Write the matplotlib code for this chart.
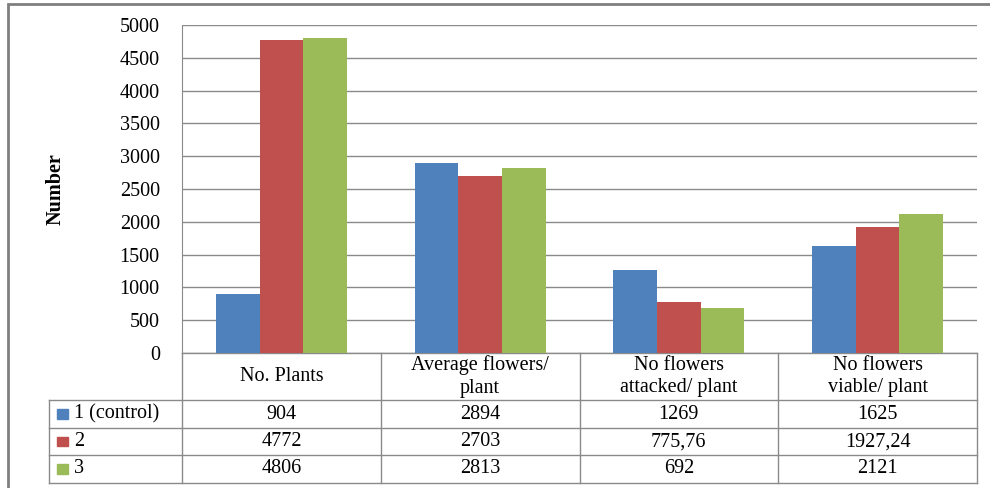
import numpy as np
import matplotlib
matplotlib.use("Agg")
import matplotlib.pyplot as plt
from matplotlib.lines import Line2D
from matplotlib.patches import Rectangle
import matplotlib.transforms as mtransforms

plt.rcParams["font.family"] = ["Liberation Serif", "DejaVu Serif"]

# ============================================================
# DATA
# ============================================================

categories = ["No. Plants", "Average flowers/\nplant",
              "No flowers\nattacked/ plant", "No flowers\nviable/ plant"]
series_names = ["1 (control)", "2", "3"]
control = [904, 2894, 1269, 1625]
treat2 = [4772, 2703, 775.76, 1927.24]
treat3 = [4806, 2813, 692, 2121]
cell_text = [["904", "2894", "1269", "1625"],
             ["4772", "2703", "775,76", "1927,24"],
             ["4806", "2813", "692", "2121"]]
colors = ["#4F81BD", "#C0504D", "#9BBB59"]
y_ticks = np.arange(0, 5001, 500)

FS = 14.5

# ============================================================
# FIGURE
# ============================================================

fig = plt.figure(figsize=(9.9, 4.88), dpi=100)
ax = fig.add_axes([182 / 990, 1 - 353 / 488, 795 / 990, 328 / 488])

x = np.arange(len(categories))
bar_w = 0.22
for i, vals in enumerate([control, treat2, treat3]):
    ax.bar(x + (i - 1) * bar_w, vals, width=bar_w, color=colors[i], zorder=3)

ax.set_xlim(-0.5, len(categories) - 0.5)
ax.set_ylim(0, 5000)
ax.set_yticks(y_ticks)
ax.set_yticklabels([str(v) for v in y_ticks], fontsize=FS)
ax.set_xticks([])
ax.tick_params(axis="y", length=0, pad=16)
ax.yaxis.grid(True, color="#8a8a8a", linewidth=1.0, zorder=0)
for side in ["top", "right", "bottom"]:
    ax.spines[side].set_visible(False)
ax.spines["left"].set_color("#8a8a8a")
ax.set_ylabel("Number", fontsize=FS, fontweight="bold", labelpad=39)

# ============================================================
# DATA TABLE BELOW THE AXES
# ============================================================

line_kw = dict(color="#8a8a8a", linewidth=1.0, clip_on=False)
trans = mtransforms.blended_transform_factory(ax.transData, ax.transAxes)

row_edges = [0.0, -0.143, -0.229, -0.311, -0.396]
label_left = -0.167
x_lo, x_hi = -0.5, len(categories) - 0.5

# horizontal rules: header bottom spans table; row rules include label column
ax.add_line(Line2D([x_lo, x_hi], [0, 0], transform=trans, **line_kw))
for y in row_edges[1:]:
    ax.add_line(Line2D([label_left, 1.0], [y, y], transform=ax.transAxes, **line_kw))

# vertical rules between category columns
for b in np.arange(x_lo, x_hi + 0.01, 1.0):
    ax.add_line(Line2D([b, b], [0, row_edges[-1]], transform=trans, **line_kw))
ax.add_line(Line2D([label_left, label_left], [row_edges[1], row_edges[-1]],
                   transform=ax.transAxes, **line_kw))

# header cells
for xi, cat in zip(x, categories):
    ax.text(xi, (row_edges[0] + row_edges[1]) / 2, cat, transform=trans,
            ha="center", va="center", fontsize=FS, linespacing=1.25)

# series rows with legend keys
for r, name in enumerate(series_names):
    yc = (row_edges[r + 1] + row_edges[r + 2]) / 2
    ax.add_patch(Rectangle((label_left + 0.010, yc - 0.014), 0.013, 0.028,
                           transform=ax.transAxes, color=colors[r], clip_on=False))
    ax.text(label_left + 0.031, yc, name, transform=ax.transAxes,
            ha="left", va="center", fontsize=FS)
    for xi, txt in zip(x, cell_text[r]):
        ax.text(xi, yc, txt, transform=trans, ha="center", va="center", fontsize=FS)

# outer chart frame
fig.add_artist(Rectangle((8 / 990, -0.1), 1.2, 1 - 4 / 488 + 0.1,
                         transform=fig.transFigure, fill=False,
                         edgecolor="#7f7f7f", linewidth=2.0))

fig.savefig("out.png", dpi=100)
